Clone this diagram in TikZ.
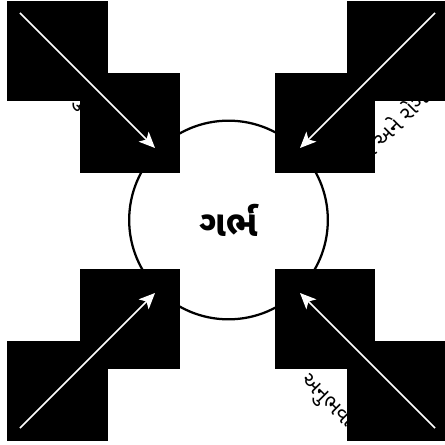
\documentclass[tikz,border=0pt]{standalone}
\usepackage{fontspec}
\newfontfamily\gujfont[Script=Gujarati]{Noto Sans Gujarati UI}
\usetikzlibrary{arrows.meta}
\tikzset{
  picbox/.style={rectangle, fill=black, inner sep=0pt, minimum width=75.5pt, minimum height=75pt},
  womb/.style={circle, draw=black, line width=1.7pt, minimum size=149pt, inner sep=0pt,
               font=\gujfont\fontsize{27}{30}\selectfont\bfseries},
  cause/.style={font=\gujfont\fontsize{16}{18}\selectfont, inner sep=1pt},
  inarr/.style={-{Stealth[length=12pt, width=10.5pt, inset=3pt]}, line width=1.3pt, draw=white},
}

\begin{document}
\begin{tikzpicture}[x=0.75pt, y=-0.75pt]
  \useasboundingbox (0,0) rectangle (444,445);
  % centre
  \node[womb] (garbh) at (228.5,220) {ગર્ભ};
  % labels along the arrows (mostly hidden behind the pictures)
  \node[cause, rotate=-45] (lblTL) at (95,113) {આનુવંશિકતા};
  \node[cause, rotate=45, anchor=west] (lblTR) at (352,166) {ચેપ અને રોગો};
  \node[cause, rotate=45] (lblBL) at (105,362) {વાતાવરણ};
  \node[cause, rotate=-45] (lblBR) at (328,400) {અનુભવો};
  % pictures
  \node[picbox] (outTL) at (57.5,51) {};
  \node[picbox] (inTL) at (130,123.5) {};
  \node[picbox] (outTR) at (397.5,51) {};
  \node[picbox] (inTR) at (325,123.5) {};
  \node[picbox] (inBL) at (130,318.5) {};
  \node[picbox] (outBL) at (57.5,391) {};
  \node[picbox] (inBR) at (325,318.5) {};
  \node[picbox] (outBR) at (397.5,391) {};
  % arrows
  \coordinate (sTL) at (20,13);   \coordinate (eTL) at (155,148);
  \coordinate (sTR) at (435,13);  \coordinate (eTR) at (300,148);
  \coordinate (sBL) at (20,428);  \coordinate (eBL) at (155,293);
  \coordinate (sBR) at (435,428); \coordinate (eBR) at (300,293);
  \draw[inarr] (sTL) -- (eTL);
  \draw[inarr] (sTR) -- (eTR);
  \draw[inarr] (sBL) -- (eBL);
  \draw[inarr] (sBR) -- (eBR);
\end{tikzpicture}
\end{document}
